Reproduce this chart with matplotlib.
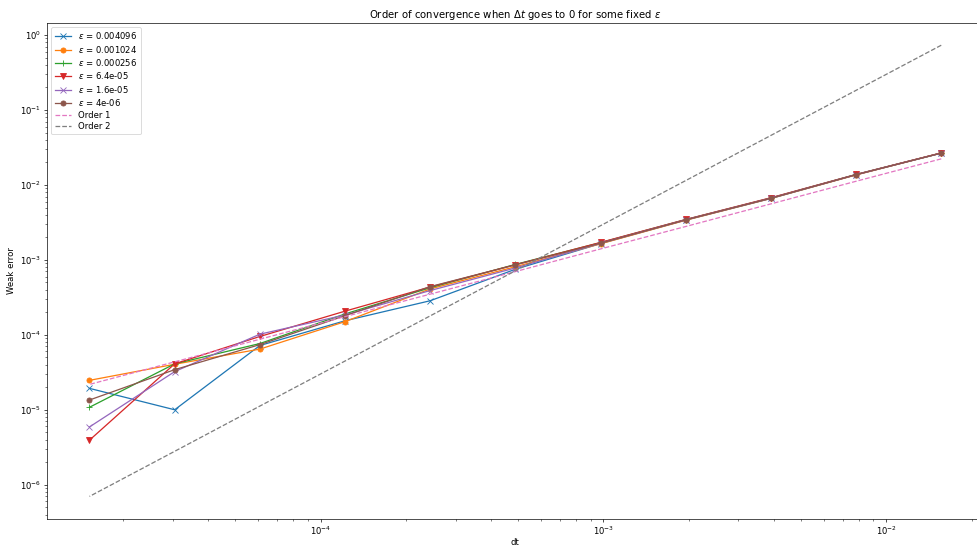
import numpy as np
import matplotlib
matplotlib.use("Agg")
import matplotlib.pyplot as plt

# time steps (dt = 2^-6 ... 2^-16)
dt = [1.5625e-2, 7.8125e-3, 3.90625e-3, 1.953125e-3, 9.765625e-4, 4.8828125e-4,
      2.44140625e-4, 1.220703125e-4, 6.103515625e-5, 3.0517578125e-5, 1.52587890625e-5]

eps_labels = ["0.004096", "0.001024", "0.000256", "6.4e-05", "1.6e-05", "4e-06"]
markers = ["x", "o", "+", "v", "x", "o"]

err_0 = [2.66e-2, 1.37e-2, 6.6e-3, 3.40e-3, 1.65e-3, 7.5e-4, 2.85e-4, 1.54e-4, 7.2e-5, 1.0e-5, 1.93e-5]
err_1 = [2.66e-2, 1.36e-2, 6.6e-3, 3.38e-3, 1.64e-3, 8.1e-4, 4.1e-4, 1.50e-4, 6.45e-5, 4.05e-5, 2.47e-5]
err_2 = [2.67e-2, 1.38e-2, 6.7e-3, 3.45e-3, 1.70e-3, 8.7e-4, 4.25e-4, 1.90e-4, 7.65e-5, 4.1e-5, 1.08e-5]
err_3 = [2.68e-2, 1.38e-2, 6.75e-3, 3.46e-3, 1.71e-3, 8.6e-4, 4.35e-4, 2.07e-4, 9.5e-5, 4.1e-5, 3.93e-6]
err_4 = [2.66e-2, 1.37e-2, 6.65e-3, 3.42e-3, 1.67e-3, 7.8e-4, 3.9e-4, 1.84e-4, 1.02e-4, 3.23e-5, 5.9e-6]
err_5 = [2.66e-2, 1.37e-2, 6.65e-3, 3.42e-3, 1.67e-3, 8.6e-4, 4.4e-4, 1.80e-4, 7.4e-5, 3.43e-5, 1.35e-5]
errors = [err_0, err_1, err_2, err_3, err_4, err_5]

# reference slopes
order1 = [2.23e-2, 1.12e-2, 5.59e-3, 2.79e-3, 1.40e-3, 6.98e-4, 3.49e-4, 1.75e-4, 8.73e-5, 4.36e-5, 2.18e-5]
order2 = [0.732, 0.183, 4.58e-2, 1.144e-2, 2.86e-3, 7.15e-4, 1.79e-4, 4.47e-5, 1.12e-5, 2.79e-6, 6.98e-7]

fig = plt.figure(figsize=(977 / 61, 546 / 61), dpi=61)
ax = fig.add_axes([0.048, 0.0495, 0.959, 0.909])

for e, lab, m in zip(errors, eps_labels, markers):
    ax.loglog(dt, e, marker=m, label=r"$\varepsilon$ = " + lab)
ax.loglog(dt, order1, "--", color="tab:pink", label="Order 1")
ax.loglog(dt, order2, "--", color="tab:gray", label="Order 2")

ax.set_xlabel("dt", labelpad=1)
ax.set_ylabel("Weak error")
ax.set_title(r"Order of convergence when $\Delta t$ goes to 0 for some fixed $\varepsilon$")
ax.legend(loc="upper left", labelspacing=0.28)

fig.savefig("out.png", dpi=61)
